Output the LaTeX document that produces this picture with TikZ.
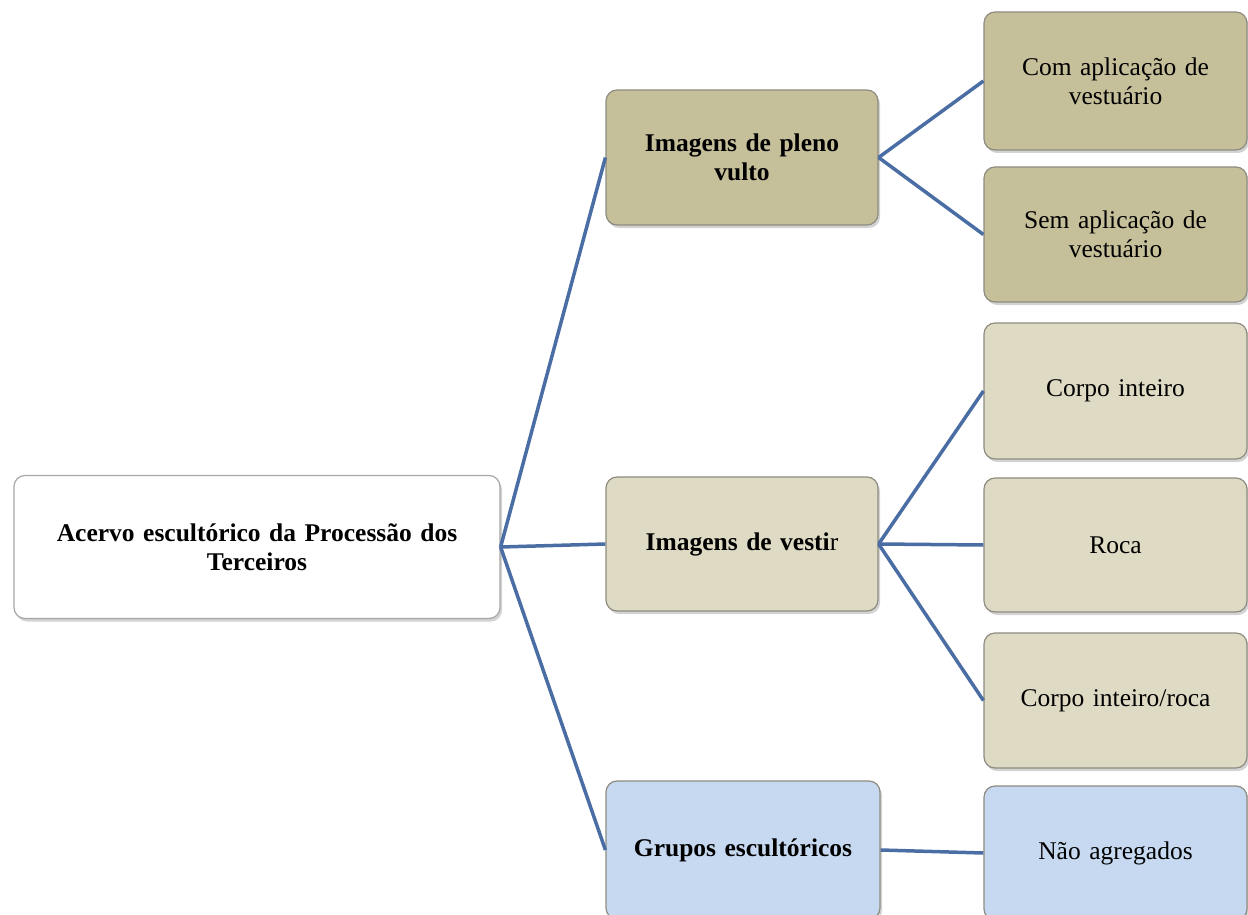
\documentclass[tikz,border=0pt]{standalone}
\usepackage{fontspec}
\setmainfont{Liberation Serif}
\usetikzlibrary{shadows}
\definecolor{tanA}{HTML}{C5BF9A}
\definecolor{tanB}{HTML}{DEDAC4}
\definecolor{blueA}{HTML}{C6D9F0}
\definecolor{edgeC}{HTML}{4A6EA3}
\definecolor{bordC}{HTML}{8E8C80}
\tikzset{
  box/.style={draw=bordC, line width=1.2pt, rounded corners=11pt, align=center,
    inner sep=4pt, font=\fontsize{25.5}{29}\selectfont,
    drop shadow={opacity=0.35, shadow xshift=2pt, shadow yshift=-3pt}},
  rootbox/.style={box, fill=white, draw=gray!70, text width=460pt, font=\fontsize{25.5}{29}\selectfont\bfseries},
  midbox/.style={box, minimum width=272pt, text width=250pt, font=\fontsize{25.5}{29}\selectfont\bfseries},
  leafbox/.style={box, minimum width=263pt, text width=240pt},
  conn/.style={draw=edgeC, line width=3.5pt}
}
\begin{document}
\begin{tikzpicture}[x=1pt,y=-1pt]
\useasboundingbox (0,0) rectangle (1248,915);
\clip (0,0) rectangle (1248,915);
% nodes
\node[rootbox, minimum width=486pt, minimum height=143pt] (root) at (257,547) {Acervo escultórico da Processão dos\\Terceiros};
\node[midbox, fill=tanA, minimum height=135pt] (pleno) at (742,157.5) {Imagens de pleno\\vulto};
\node[midbox, fill=tanB, minimum height=134pt] (vestir) at (742,544) {Imagens de vesti\textmd{r}};
\node[midbox, fill=blueA, minimum width=274pt, minimum height=138pt] (grupos) at (743,850) {Grupos escultóricos};
\node[leafbox, fill=tanA, minimum height=138pt] (com) at (1115.5,81) {Com aplicação de\\vestuário};
\node[leafbox, fill=tanA, minimum height=135pt] (sem) at (1115.5,234.5) {Sem aplicação de\\vestuário};
\node[leafbox, fill=tanB, minimum height=136pt] (corpo) at (1115.5,391) {Corpo inteiro};
\node[leafbox, fill=tanB, minimum height=134pt] (roca) at (1115.5,545) {Roca};
\node[leafbox, fill=tanB, minimum height=135pt] (corporoca) at (1115.5,700.5) {Corpo inteiro/roca};
\node[leafbox, fill=blueA, minimum height=134pt] (nao) at (1115.5,853) {Não agregados};
% connectors
\draw[conn] (root.east) -- (pleno.west);
\draw[conn] (root.east) -- (vestir.west);
\draw[conn] (root.east) -- (grupos.west);
\draw[conn] (pleno.east) -- (com.west);
\draw[conn] (pleno.east) -- (sem.west);
\draw[conn] (vestir.east) -- (corpo.west);
\draw[conn] (vestir.east) -- (roca.west);
\draw[conn] (vestir.east) -- (corporoca.west);
\draw[conn] (grupos.east) -- (nao.west);
\end{tikzpicture}
\end{document}
